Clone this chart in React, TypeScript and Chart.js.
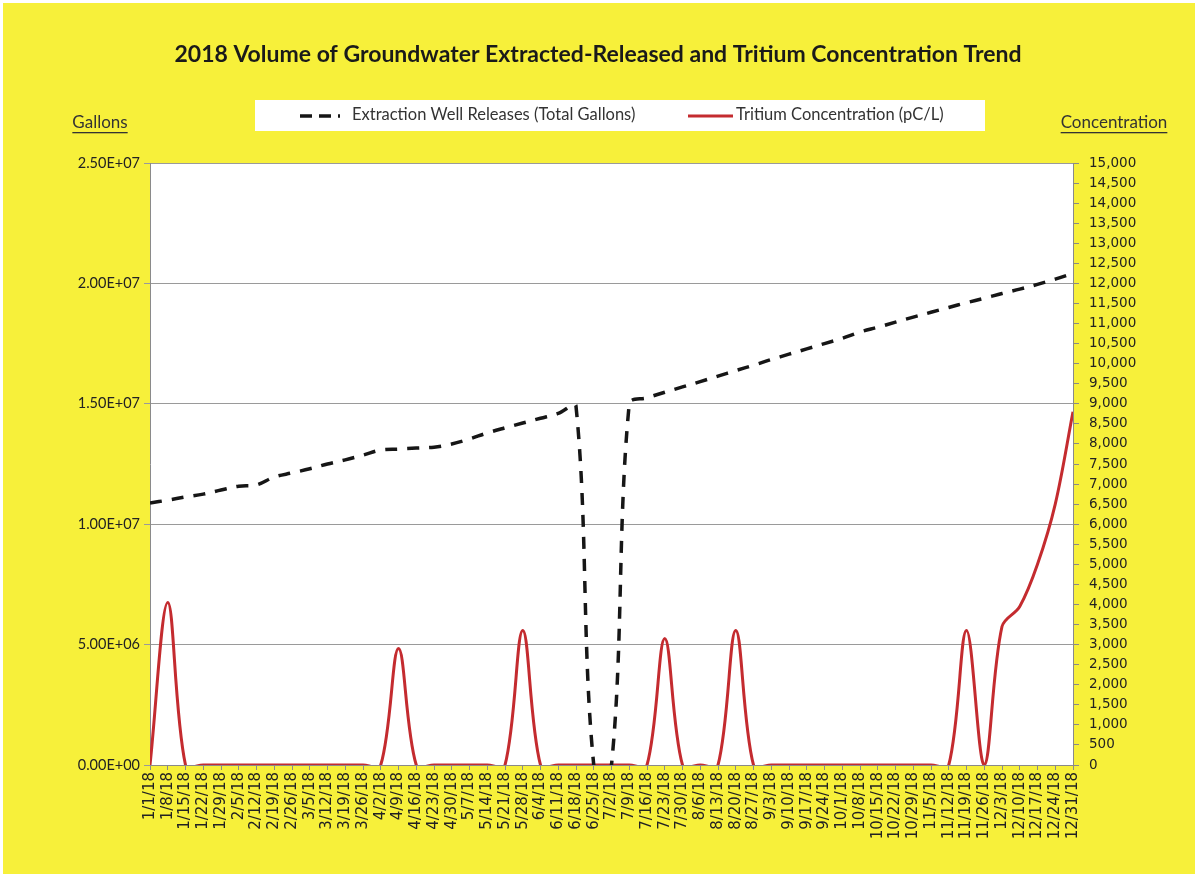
import React, { useEffect, useRef } from "react";
import { Chart, registerables } from "chart.js";

Chart.register(...registerables);

const chartTitle = "2018 Volume of Groundwater Extracted-Released and Tritium Concentration Trend";
const leftAxisTitle = "Gallons";
const rightAxisTitle = "Concentration";

const weekLabels = [
  "1/1/18", "1/8/18", "1/15/18", "1/22/18", "1/29/18", "2/5/18", "2/12/18", "2/19/18", "2/26/18",
  "3/5/18", "3/12/18", "3/19/18", "3/26/18", "4/2/18", "4/9/18", "4/16/18", "4/23/18", "4/30/18",
  "5/7/18", "5/14/18", "5/21/18", "5/28/18", "6/4/18", "6/11/18", "6/18/18", "6/25/18", "7/2/18",
  "7/9/18", "7/16/18", "7/23/18", "7/30/18", "8/6/18", "8/13/18", "8/20/18", "8/27/18", "9/3/18",
  "9/10/18", "9/17/18", "9/24/18", "10/1/18", "10/8/18", "10/15/18", "10/22/18", "10/29/18", "11/5/18",
  "11/12/18", "11/19/18", "11/26/18", "12/3/18", "12/10/18", "12/17/18", "12/24/18", "12/31/18",
];

const gallonsReleased = [
  10880000, 11000000, 11130000, 11250000, 11420000, 11580000, 11630000, 11960000, 12130000,
  12300000, 12500000, 12670000, 12870000, 13080000, 13120000, 13160000, 13200000, 13330000,
  13540000, 13790000, 14000000, 14200000, 14400000, 14600000, 14900000, 0, 0,
  15000000, 15250000, 15480000, 15700000, 15920000, 16150000, 16380000, 16600000, 16840000,
  17060000, 17280000, 17500000, 17720000, 17980000, 18180000, 18390000, 18600000, 18800000,
  19000000, 19200000, 19380000, 19580000, 19760000, 19960000, 20180000, 20420000,
];

const tritiumConc = [
  0, 4050, 0, 0, 0, 0, 0, 0, 0,
  0, 0, 0, 0, 0, 2900, 0, 0, 0,
  0, 0, 0, 3350, 0, 0, 0, 0, 0,
  0, 0, 3150, 0, 0, 0, 3350, 0, 0,
  0, 0, 0, 0, 0, 0, 0, 0, 0,
  0, 3350, 0, 3450, 3950, 5000, 6500, 8800,
];

const YELLOW = "#F7F03A";
const TEXT = "#222222";
const LATO = "Lato, 'Open Sans', sans-serif";
const DEJAVU = "'DejaVu Sans', Verdana, sans-serif";

function fmtExp(v: number): string {
  if (v === 0) return "0.00E+00";
  const e = Math.floor(Math.log10(Math.abs(v)));
  const m = v / Math.pow(10, e);
  const es = (e < 0 ? "-" : "+") + String(Math.abs(e)).padStart(2, "0");
  return m.toFixed(2) + "E" + es;
}

const decorPlugin = {
  id: "decor",
  beforeDraw(chart: any) {
    const { ctx, chartArea: a, width, height } = chart;
    ctx.save();
    ctx.fillStyle = "#ffffff";
    ctx.fillRect(0, 0, width, height);
    ctx.fillStyle = YELLOW;
    ctx.fillRect(3, 3, width - 6, height - 6);
    ctx.fillStyle = "#ffffff";
    ctx.fillRect(a.left, a.top, a.right - a.left, a.bottom - a.top);
    // legend box
    ctx.fillStyle = "#ffffff";
    ctx.fillRect(255, 100, 730, 31);
    ctx.restore();
  },
  afterDraw(chart: any) {
    const { ctx } = chart;
    ctx.save();
    // title
    ctx.fillStyle = "#1a1a1a";
    ctx.font = `bold 23px ${LATO}`;
    ctx.textAlign = "center";
    ctx.textBaseline = "middle";
    ctx.fillText(chartTitle, 598, 55);

    // legend
    const ds = chart.data.datasets;
    const items = [
      { x0: 300, x1: 340, tx: 352 },
      { x0: 688, x1: 733, tx: 736 },
    ];
    ctx.font = `16.5px ${LATO}`;
    ctx.textAlign = "left";
    items.forEach((it, i) => {
      const d = ds[i];
      ctx.save();
      ctx.strokeStyle = d.borderColor;
      ctx.lineWidth = d.borderWidth;
      ctx.setLineDash(d.borderDash ? [12, 7] : []);
      ctx.beginPath();
      ctx.moveTo(it.x0, 116);
      ctx.lineTo(it.x1, 116);
      ctx.stroke();
      ctx.restore();
      ctx.fillStyle = "#333333";
      ctx.fillText(d.label, it.tx, 115);
    });

    // axis titles (underlined)
    ctx.font = `17px ${LATO}`;
    ctx.fillStyle = "#333333";
    ctx.textAlign = "center";
    const drawUnder = (t: string, cx: number, cy: number) => {
      ctx.fillText(t, cx, cy);
      const w = ctx.measureText(t).width;
      ctx.fillRect(cx - w / 2, cy + 9, w, 1.3);
    };
    drawUnder(leftAxisTitle, 100, 123);
    drawUnder(rightAxisTitle, 1114, 123);
    ctx.restore();
  },
};

export default function App() {
  const ref = useRef<HTMLCanvasElement | null>(null);

  useEffect(() => {
    if (!ref.current) return;
    const chart = new Chart(ref.current, {
      type: "line",
      data: {
        labels: weekLabels,
        datasets: [
          {
            label: "Extraction Well Releases (Total Gallons)",
            data: gallonsReleased,
            yAxisID: "y",
            borderColor: "#161616",
            borderWidth: 3.5,
            borderDash: [12, 10],
            tension: 0.35,
            pointRadius: 0,
            fill: false,
            clip: 0,
          },
          {
            label: "Tritium Concentration (pC/L)",
            data: tritiumConc,
            yAxisID: "y1",
            borderColor: "#C42B2F",
            borderWidth: 3,
            tension: 0.35,
            pointRadius: 0,
            fill: false,
            clip: 0,
          },
        ],
      },
      options: {
        responsive: false,
        animation: false,
        devicePixelRatio: 1,
        layout: { padding: { top: 163, left: 0, right: 0, bottom: 0 } },
        elements: { line: { capBezierPoints: false } },
        plugins: {
          legend: { display: false },
          title: { display: false },
          tooltip: { enabled: false },
        },
        scales: {
          x: {
            type: "category",
            offset: false,
            afterFit: (s: any) => { s.height = 112; },
            grid: { display: true, drawOnChartArea: false, tickLength: 5, color: "#8a8a8a" },
            border: { display: true, color: "#8a8a8a" },
            ticks: {
              autoSkip: false,
              maxRotation: 90,
              minRotation: 90,
              padding: 2,
              color: TEXT,
              font: { family: DEJAVU, size: 15 },
            },
          },
          y: {
            position: "left",
            min: 0,
            max: 25000000,
            afterFit: (s: any) => { s.width = 150; },
            grid: { color: "#9a9a9a", tickLength: 6 },
            border: { display: true, color: "#8a8a8a" },
            ticks: {
              stepSize: 5000000,
              padding: 4,
              color: TEXT,
              font: { family: LATO, size: 14.5 },
              callback: (v: any) => fmtExp(Number(v)),
            },
          },
          y1: {
            position: "right",
            min: 0,
            max: 15000,
            afterFit: (s: any) => { s.width = 125; },
            grid: { drawOnChartArea: false, color: "#8a8a8a", tickLength: 6 },
            border: { display: true, color: "#8a8a8a" },
            ticks: {
              stepSize: 500,
              padding: 10,
              color: TEXT,
              font: { family: DEJAVU, size: 13.5 },
              callback: (v: any) => Number(v).toLocaleString("en-US"),
            },
          },
        },
      },
      plugins: [decorPlugin],
    } as any);
    return () => chart.destroy();
  }, []);

  return (
    <div style={{ position: "absolute", left: 0, top: 0, width: 1198, height: 877 }}>
      <canvas ref={ref} width={1198} height={877} style={{ width: 1198, height: 877, display: "block" }} />
    </div>
  );
}
